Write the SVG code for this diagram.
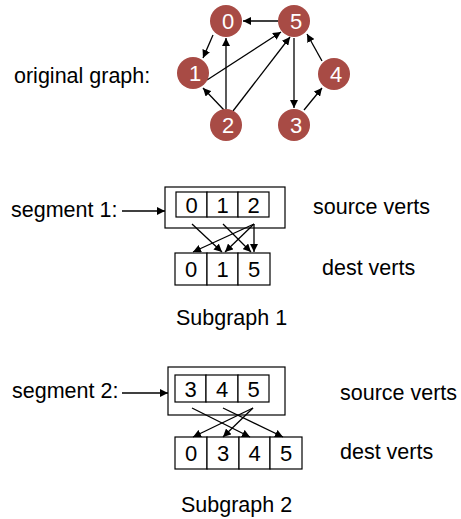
<svg xmlns="http://www.w3.org/2000/svg" width="461" height="519" viewBox="0 0 461 519">
<defs>
<style>
text{font-family:"Liberation Sans",Arial,sans-serif;fill:#000}
.lbl{font-size:21.5px}
.cell{font-size:22px;text-anchor:middle}
.nd{fill:#A84B45}
.nt{font-size:22px;fill:#fff;text-anchor:middle}
.box{fill:#fff;stroke:#000;stroke-width:1.2}
.e{stroke:#000;stroke-width:1.3;fill:none;marker-end:url(#ah)}
</style>
<marker id="ah" viewBox="0 0 10 10" refX="10" refY="5" markerWidth="8" markerHeight="8" markerUnits="userSpaceOnUse" orient="auto"><path d="M0,0L10,5L0,10z" fill="#000"/></marker>
</defs>
<rect width="461" height="519" fill="#fff"/>

<g id="labels">
<text class="lbl" x="14" y="83">original graph:</text>
<text class="lbl" x="11" y="217">segment 1:</text>
<text class="lbl" x="313" y="214">source verts</text>
<text class="lbl" x="322" y="275">dest verts</text>
<text class="lbl" x="176" y="325">Subgraph 1</text>
<text class="lbl" x="12" y="398">segment 2:</text>
<text class="lbl" x="340" y="400">source verts</text>
<text class="lbl" x="340" y="459">dest verts</text>
<text class="lbl" x="181" y="512">Subgraph 2</text>
</g>

<g id="connectors">
<line class="e" x1="278" y1="21" x2="243" y2="21"/>
<line class="e" x1="213" y1="35" x2="203" y2="58"/>
<line class="e" x1="207" y1="80" x2="281" y2="32"/>
<line class="e" x1="224" y1="110" x2="203" y2="88"/>
<line class="e" x1="226" y1="109" x2="226" y2="38"/>
<line class="e" x1="233" y1="111" x2="290" y2="37"/>
<line class="e" x1="294" y1="38" x2="294" y2="108"/>
<line class="e" x1="304" y1="110" x2="322" y2="88"/>
<line class="e" x1="322" y1="61" x2="307" y2="34"/>
<line class="e" x1="122" y1="211" x2="165" y2="211"/>
<line class="e" x1="122" y1="393" x2="168" y2="393"/>
</g>

<g id="node0"><circle class="nd" cx="226" cy="21" r="16"/><text class="nt" x="228" y="29">0</text></g>
<g id="node5"><circle class="nd" cx="294" cy="21" r="16"/><text class="nt" x="296" y="29">5</text></g>
<g id="node1"><circle class="nd" cx="193" cy="73" r="16"/><text class="nt" x="195" y="81">1</text></g>
<g id="node4"><circle class="nd" cx="334" cy="74" r="16"/><text class="nt" x="336" y="82">4</text></g>
<g id="node2"><circle class="nd" cx="226" cy="125" r="16"/><text class="nt" x="228" y="133">2</text></g>
<g id="node3"><circle class="nd" cx="294" cy="125" r="16"/><text class="nt" x="296" y="133">3</text></g>

<g id="segment1">
<rect class="box" x="165" y="187" width="120" height="41"/>
<rect class="box" x="176" y="192" width="31" height="25"/>
<rect class="box" x="207" y="192" width="31" height="25"/>
<rect class="box" x="238" y="192" width="31" height="25"/>
<text class="cell" x="191.5" y="213">0</text>
<text class="cell" x="222.5" y="213">1</text>
<text class="cell" x="253.5" y="213">2</text>
</g>
<g id="dest1">
<rect class="box" x="175" y="253" width="32" height="32"/>
<rect class="box" x="207" y="253" width="31" height="32"/>
<rect class="box" x="238" y="253" width="32" height="32"/>
<text class="cell" x="191" y="277">0</text>
<text class="cell" x="222.5" y="277">1</text>
<text class="cell" x="254" y="277">5</text>
</g>
<g id="connectors1">
<line class="e" x1="192" y1="224" x2="222" y2="252"/>
<line class="e" x1="223" y1="224" x2="251" y2="252"/>
<line class="e" x1="254" y1="224" x2="193" y2="252"/>
<line class="e" x1="254" y1="224" x2="225" y2="252"/>
<line class="e" x1="254" y1="224" x2="254" y2="252"/>
</g>

<g id="segment2">
<rect class="box" x="168" y="367" width="117" height="48"/>
<rect class="box" x="175" y="375" width="31" height="27"/>
<rect class="box" x="206" y="375" width="32" height="27"/>
<rect class="box" x="238" y="375" width="31" height="27"/>
<text class="cell" x="190.5" y="397">3</text>
<text class="cell" x="222" y="397">4</text>
<text class="cell" x="253.5" y="397">5</text>
</g>
<g id="dest2">
<rect class="box" x="175" y="437" width="32" height="32"/>
<rect class="box" x="207" y="437" width="32" height="32"/>
<rect class="box" x="239" y="437" width="31" height="32"/>
<rect class="box" x="270" y="437" width="32" height="32"/>
<text class="cell" x="191" y="461">0</text>
<text class="cell" x="223" y="461">3</text>
<text class="cell" x="254.5" y="461">4</text>
<text class="cell" x="286" y="461">5</text>
</g>
<g id="connectors2">
<line class="e" x1="192" y1="408" x2="250" y2="437"/>
<line class="e" x1="223" y1="408" x2="283" y2="437"/>
<line class="e" x1="253" y1="408" x2="193" y2="437"/>
<line class="e" x1="253" y1="408" x2="223" y2="437"/>
</g>
</svg>
